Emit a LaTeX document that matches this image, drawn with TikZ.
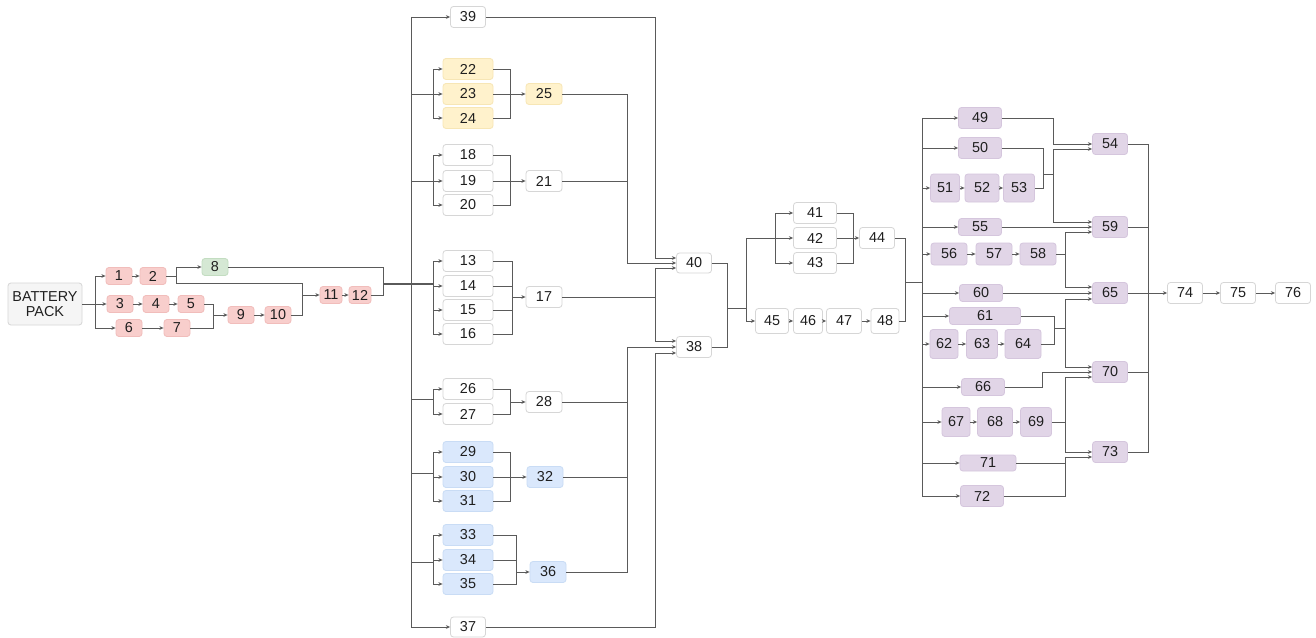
\documentclass[tikz,border=0pt]{standalone}
\usepackage{fontspec}
\setmainfont{Liberation Sans}
\usetikzlibrary{arrows.meta,calc}
\definecolor{lc}{HTML}{5A5A5A}
\definecolor{pkf}{HTML}{F8CECC}\definecolor{pkd}{HTML}{F1BDBB}
\definecolor{gnf}{HTML}{D5E8D4}\definecolor{gnd}{HTML}{C3DDC1}
\definecolor{ylf}{HTML}{FFF2CC}\definecolor{yld}{HTML}{F7E6B5}
\definecolor{blf}{HTML}{DAE8FC}\definecolor{bld}{HTML}{C9DCF5}
\definecolor{puf}{HTML}{E1D5E7}\definecolor{pud}{HTML}{D5C6DD}
\definecolor{wtd}{HTML}{D6D6D6}
\definecolor{gyf}{HTML}{F5F5F5}
\begin{document}
\begin{tikzpicture}[x=0.75pt,y=-0.75pt,
  bw/.style={minimum width=#1*0.75pt},
  bh/.style={minimum height=#1*0.75pt},
  box/.style={rectangle,rounded corners=2.2pt,inner sep=0pt,line width=0.6pt,
    font=\fontsize{10.8}{12}\selectfont,text=black!88},
  pk/.style={box,fill=pkf,draw=pkd},
  gn/.style={box,fill=gnf,draw=gnd},
  yl/.style={box,fill=ylf,draw=yld},
  bl/.style={box,fill=blf,draw=bld},
  pu/.style={box,fill=puf,draw=pud},
  wt/.style={box,fill=white,draw=wtd},
  gy/.style={box,fill=gyf,draw=wtd,align=center},
  ln/.style={draw=lc,line width=0.7pt},
  arr/.style={ln,-{Stealth[length=3.2pt,width=2.8pt]}},
  thk/.style={draw=lc,line width=1.6pt}]
\fill[white] (0,0) rectangle (1316,638);
\useasboundingbox (0,0) rectangle (1316,638);

% ---------- nodes ----------
\node[gy,bw=74,bh=42] (bp) at (45,304) {BATTERY\\[-1pt]PACK};
\node[pk,bw=26,bh=17] (n1) at (119,276) {1};
\node[pk,bw=26,bh=17] (n2) at (153,276) {2};
\node[gn,bw=26,bh=17] (n8) at (215,267) {8};
\node[pk,bw=26,bh=17] (n3) at (120,304) {3};
\node[pk,bw=26,bh=17] (n4) at (156,304) {4};
\node[pk,bw=26,bh=17] (n5) at (191,304) {5};
\node[pk,bw=26,bh=17] (n6) at (129,328) {6};
\node[pk,bw=26,bh=17] (n7) at (177,328) {7};
\node[pk,bw=26,bh=17] (n9) at (241,315) {9};
\node[pk,bw=26,bh=17] (n10) at (278,315) {10};
\node[pk,bw=22,bh=17] (n11) at (331,295) {11};
\node[pk,bw=22,bh=17] (n12) at (360,295) {12};

\node[wt,bw=35,bh=21] (n39) at (468,17) {39};
\node[yl,bw=50,bh=21] (n22) at (468,69) {22};
\node[yl,bw=50,bh=21] (n23) at (468,94) {23};
\node[yl,bw=50,bh=21] (n24) at (468,118) {24};
\node[yl,bw=36,bh=21] (n25) at (544,94) {25};
\node[wt,bw=50,bh=21] (n18) at (468,155) {18};
\node[wt,bw=50,bh=21] (n19) at (468,181) {19};
\node[wt,bw=50,bh=21] (n20) at (468,205) {20};
\node[wt,bw=36,bh=21] (n21) at (544,181) {21};
\node[wt,bw=50,bh=21] (n13) at (468,261) {13};
\node[wt,bw=50,bh=21] (n14) at (468,286) {14};
\node[wt,bw=50,bh=21] (n15) at (468,310) {15};
\node[wt,bw=50,bh=21] (n16) at (468,334) {16};
\node[wt,bw=36,bh=21] (n17) at (544,297) {17};
\node[wt,bw=50,bh=21] (n26) at (468,389) {26};
\node[wt,bw=50,bh=21] (n27) at (468,414) {27};
\node[wt,bw=36,bh=21] (n28) at (544,402) {28};
\node[bl,bw=50,bh=21] (n29) at (468,452) {29};
\node[bl,bw=50,bh=21] (n30) at (468,477) {30};
\node[bl,bw=50,bh=21] (n31) at (468,501) {31};
\node[bl,bw=36,bh=21] (n32) at (545,477) {32};
\node[bl,bw=50,bh=21] (n33) at (468,535) {33};
\node[bl,bw=50,bh=21] (n34) at (468,560) {34};
\node[bl,bw=50,bh=21] (n35) at (468,584) {35};
\node[bl,bw=36,bh=21] (n36) at (548,572) {36};
\node[wt,bw=35,bh=20] (n37) at (468,627) {37};

\node[wt,bw=35,bh=20] (n40) at (694,263) {40};
\node[wt,bw=35,bh=21] (n38) at (694,347) {38};
\node[wt,bw=43,bh=21] (n41) at (815,213) {41};
\node[wt,bw=43,bh=21] (n42) at (815,238) {42};
\node[wt,bw=43,bh=21] (n43) at (815,263) {43};
\node[wt,bw=35,bh=21] (n44) at (877,238) {44};
\node[wt,bw=33,bh=25] (n45) at (772,321) {45};
\node[wt,bw=29,bh=25] (n46) at (808,321) {46};
\node[wt,bw=35,bh=25] (n47) at (844,321) {47};
\node[wt,bw=28,bh=25] (n48) at (885,321) {48};

\node[pu,bw=43,bh=21] (n49) at (980,118) {49};
\node[pu,bw=43,bh=21] (n50) at (980,148) {50};
\node[pu,bw=29,bh=28] (n51) at (945,188) {51};
\node[pu,bw=34,bh=28] (n52) at (982,188) {52};
\node[pu,bw=31,bh=28] (n53) at (1019,188) {53};
\node[pu,bw=35,bh=21] (n54) at (1110,144) {54};
\node[pu,bw=43,bh=17] (n55) at (980,227) {55};
\node[pu,bw=35,bh=21] (n59) at (1110,227) {59};
\node[pu,bw=36,bh=22] (n56) at (949,254) {56};
\node[pu,bw=36,bh=22] (n57) at (994,254) {57};
\node[pu,bw=36,bh=22] (n58) at (1038,254) {58};
\node[pu,bw=43,bh=17] (n60) at (981,293) {60};
\node[pu,bw=35,bh=21] (n65) at (1110,293) {65};
\node[pu,bw=71,bh=17] (n61) at (985,316) {61};
\node[pu,bw=28,bh=29] (n62) at (944,344) {62};
\node[pu,bw=31,bh=29] (n63) at (982,344) {63};
\node[pu,bw=36,bh=29] (n64) at (1023,344) {64};
\node[pu,bw=43,bh=17] (n66) at (983,387) {66};
\node[pu,bw=35,bh=21] (n70) at (1110,372) {70};
\node[pu,bw=28,bh=29] (n67) at (956,422) {67};
\node[pu,bw=35,bh=29] (n68) at (995,422) {68};
\node[pu,bw=31,bh=29] (n69) at (1036,422) {69};
\node[pu,bw=56,bh=16] (n71) at (988,463) {71};
\node[pu,bw=43,bh=21] (n72) at (982,496) {72};
\node[pu,bw=35,bh=21] (n73) at (1110,452) {73};

\node[wt,bw=35,bh=21] (n74) at (1185,293) {74};
\node[wt,bw=35,bh=21] (n75) at (1238,293) {75};
\node[wt,bw=35,bh=21] (n76) at (1293,293) {76};

% ---------- helper coordinates ----------
\coordinate (jb) at (95,304);
\coordinate (j2) at (176,276);
\coordinate (j2b) at (302,283);
\coordinate (j10) at (302,295);
\coordinate (j5) at (213,315);
\coordinate (j12) at (383,284);
\coordinate (bus) at (411,0);
\coordinate (gl) at (433,0);
\coordinate (gr) at (510,0);
\coordinate (gr2) at (512,0);
\coordinate (gr3) at (516,0);
\coordinate (c1) at (627,0);
\coordinate (c2) at (655,0);
\coordinate (b26) at (411,399);
\coordinate (b30) at (411,473);
\coordinate (b34) at (411,562);
\coordinate (i40a) at ($(n40.west)+(0,-5)$);
\coordinate (i40c) at ($(n40.west)+(0,5)$);
\coordinate (i38a) at ($(n38.west)+(0,-6)$);
\coordinate (i38c) at ($(n38.west)+(0,6)$);
\coordinate (j40) at (727,308);
\coordinate (j41) at (746,308);
\coordinate (j41b) at (775,238);
\coordinate (j44) at (853,238);
\coordinate (j48) at (905,282);
\coordinate (rb) at (922,282);
\coordinate (rbx) at (922,0);
\coordinate (cx1) at (1053,0);
\coordinate (cx2) at (1065,0);
\coordinate (cx3) at (1042,0);
\coordinate (cx4) at (1148,0);
\coordinate (j53) at (1043,174);
\coordinate (j64) at (1054,328);
\coordinate (i54b) at ($(n54.west)+(0,5)$);
\coordinate (i59a) at ($(n59.west)+(0,-5)$);
\coordinate (i59c) at ($(n59.west)+(0,5)$);
\coordinate (i65a) at ($(n65.west)+(0,-6)$);
\coordinate (i65c) at ($(n65.west)+(0,6)$);
\coordinate (i70a) at ($(n70.west)+(0,-5)$);
\coordinate (i70c) at ($(n70.west)+(0,5)$);
\coordinate (i73b) at ($(n73.west)+(0,5)$);

% ---------- left part ----------
\draw[arr] (bp.east) -- (n3.west);
\draw[arr] (jb) |- (n1.west);
\draw[arr] (jb) |- (n6.west);
\draw[arr] (n1) -- (n2);
\draw[ln] (n2.east) -- (j2);
\draw[arr] (j2) |- (n8.west);
\draw[ln] (j2) |- (j2b) -- (j10);
\draw[ln] (n10.east) -| (j10);
\draw[arr] (j10) -- (n11.west);
\draw[arr] (n3) -- (n4);
\draw[arr] (n4) -- (n5);
\draw[arr] (n6) -- (n7);
\draw[ln] (n5.east) -| (j5);
\draw[ln] (n7.east) -| (j5);
\draw[arr] (j5) -- (n9.west);
\draw[arr] (n9) -- (n10);
\draw[arr] (n11) -- (n12);
\draw[ln] (n8.east) -| (j12);
\draw[ln] (n12.east) -| (j12);
\draw[thk] (j12) -- (gl |- j12);

% ---------- main bus ----------
\draw[ln] (bus |- n39) -- (bus |- n37);
\draw[arr] (bus |- n39) -- (n39.west);
\draw[arr] (bus |- n37) -- (n37.west);

% group 22-24
\draw[ln] (bus |- n23) -- (gl |- n23);
\draw[arr] (gl |- n23) -- (n23.west);
\draw[arr] (gl |- n23) |- (n22.west);
\draw[arr] (gl |- n23) |- (n24.west);
\draw[ln] (n22.east) -| (gr |- n24) -- (n24.east);
\draw[arr] (n23.east) -- (n25.west);
% group 18-20
\draw[ln] (bus |- n19) -- (gl |- n19);
\draw[arr] (gl |- n19) -- (n19.west);
\draw[arr] (gl |- n19) |- (n18.west);
\draw[arr] (gl |- n19) |- (n20.west);
\draw[ln] (n18.east) -| (gr |- n20) -- (n20.east);
\draw[arr] (n19.east) -- (n21.west);
% group 13-16
\draw[ln] (gl |- n13) -- (gl |- n16);
\draw[arr] (gl |- n13) -- (n13.west);
\draw[arr] (gl |- n14) -- (n14.west);
\draw[arr] (gl |- n15) -- (n15.west);
\draw[arr] (gl |- n16) -- (n16.west);
\draw[ln] (n13.east) -| (gr2 |- n16) -- (n16.east);
\draw[ln] (n14.east) -- (gr2 |- n14);
\draw[ln] (n15.east) -- (gr2 |- n15);
\draw[arr] (gr2 |- n17) -- (n17.west);
% group 26-27
\draw[ln] (b26) -- (gl |- b26);
\draw[arr] (gl |- b26) |- (n26.west);
\draw[arr] (gl |- b26) |- (n27.west);
\draw[ln] (n26.east) -| (gr |- n27) -- (n27.east);
\draw[arr] (gr |- n28) -- (n28.west);
% group 29-31
\draw[ln] (b30) -- (gl |- b30);
\draw[ln] (gl |- n29) -- (gl |- n31);
\draw[arr] (gl |- n29) -- (n29.west);
\draw[arr] (gl |- n30) -- (n30.west);
\draw[arr] (gl |- n31) -- (n31.west);
\draw[ln] (n29.east) -| (gr |- n31) -- (n31.east);
\draw[arr] (n30.east) -- (n32.west);
% group 33-35
\draw[ln] (b34) -- (gl |- b34);
\draw[ln] (gl |- n33) -- (gl |- n35);
\draw[arr] (gl |- n33) -- (n33.west);
\draw[arr] (gl |- n34) -- (n34.west);
\draw[arr] (gl |- n35) -- (n35.west);
\draw[ln] (n33.east) -| (gr3 |- n35) -- (n35.east);
\draw[ln] (n34.east) -- (gr3 |- n34);
\draw[arr] (gr3 |- n36) -- (n36.west);

% into 40 and 38
\draw[arr] (n39.east) -| (c2 |- i40a) -- (i40a);
\draw[arr] (n25.east) -| (c1 |- n40) -- (n40.west);
\draw[ln] (n21.east) -- (c1 |- n21);
\draw[ln] (n17.east) -- (c2 |- n17);
\draw[arr] (c2 |- n17) |- (i40c);
\draw[arr] (c2 |- n17) |- (i38a);
\draw[arr] (n36.east) -| (c1 |- n38) -- (n38.west);
\draw[ln] (n28.east) -- (c1 |- n28);
\draw[ln] (n32.east) -- (c1 |- n32);
\draw[arr] (n37.east) -| (c2 |- i38c) -- (i38c);

% ---------- middle ----------
\draw[ln] (n40.east) -| (j40);
\draw[ln] (n38.east) -| (j40);
\draw[ln] (j40) -- (j41);
\draw[arr] (j41) |- (n45.west);
\draw[ln] (j41) |- (j41b);
\draw[arr] (j41b) |- (n41.west);
\draw[arr] (j41b) -- (n42.west);
\draw[arr] (j41b) |- (n43.west);
\draw[ln] (n41.east) -| (j44);
\draw[ln] (n43.east) -| (j44);
\draw[arr] (n42.east) -- (n44.west);
\draw[arr] (n45) -- (n46);
\draw[arr] (n46) -- (n47);
\draw[arr] (n47) -- (n48);
\draw[ln] (n44.east) -| (j48);
\draw[ln] (n48.east) -| (j48);
\draw[ln] (j48) -- (rb);

% ---------- right part ----------
\draw[ln] (rbx |- n49) -- (rbx |- n72);
\foreach \n in {49,50,51,55,56,60,61,62,66,67,71,72}
  \draw[arr] (rbx |- n\n) -- (n\n.west);
\draw[arr] (n51) -- (n52);
\draw[arr] (n52) -- (n53);
\draw[arr] (n56) -- (n57);
\draw[arr] (n57) -- (n58);
\draw[arr] (n62) -- (n63);
\draw[arr] (n63) -- (n64);
\draw[arr] (n67) -- (n68);
\draw[arr] (n68) -- (n69);

\draw[arr] (n49.east) -| (cx1 |- n54) -- (n54.west);
\draw[ln] (n50.east) -| (j53);
\draw[ln] (n53.east) -| (j53);
\draw[ln] (j53) -- (cx1 |- j53);
\draw[arr] (cx1 |- j53) |- (i54b);
\draw[arr] (cx1 |- j53) |- (i59a);
\draw[arr] (n55.east) -- (n59.west);
\draw[ln] (n58.east) -- (cx2 |- n58);
\draw[arr] (cx2 |- n58) |- (i59c);
\draw[arr] (cx2 |- n58) |- (i65a);
\draw[arr] (n60.east) -- (n65.west);
\draw[ln] (n61.east) -| (j64);
\draw[ln] (n64.east) -| (j64);
\draw[ln] (j64) -- (cx2 |- j64);
\draw[arr] (cx2 |- j64) |- (i65c);
\draw[arr] (cx2 |- j64) |- (i70a);
\draw[arr] (n66.east) -| (cx3 |- n70) -- (n70.west);
\draw[ln] (n69.east) -- (cx2 |- n69);
\draw[arr] (cx2 |- n69) |- (i70c);
\draw[arr] (cx2 |- n69) |- (n73.west);
\draw[ln] (n72.east) -| (cx2 |- n71);
\draw[arr] (n71.east) -| (cx2 |- i73b) -- (i73b);

\draw[ln] (n54.east) -| (cx4 |- n73) -- (n73.east);
\draw[ln] (n59.east) -- (cx4 |- n59);
\draw[ln] (n70.east) -- (cx4 |- n70);
\draw[arr] (n65.east) -- (n74.west);
\draw[arr] (n74) -- (n75);
\draw[arr] (n75) -- (n76);
\end{tikzpicture}
\end{document}
